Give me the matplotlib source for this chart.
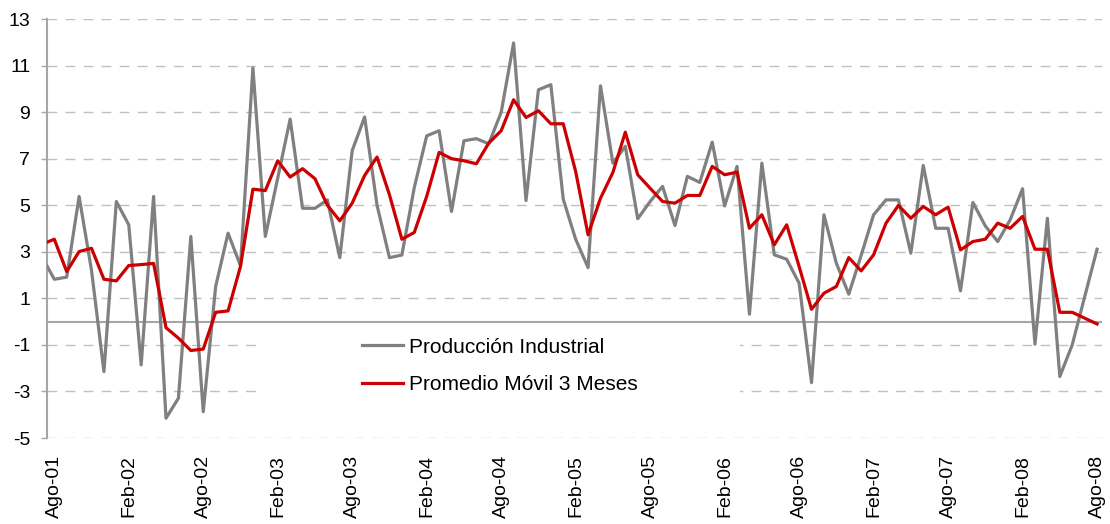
import numpy as np
import matplotlib
matplotlib.use("Agg")
import matplotlib.pyplot as plt
from matplotlib.patches import Rectangle

plt.rcParams['font.family'] = ['Liberation Sans', 'DejaVu Sans']
plt.rcParams['axes.unicode_minus'] = False

# ---------- data (monthly, Jul-01 .. Ago-08; Jul-01 is clipped by the axis) ----------
month_idx = np.arange(-1, 85)

produccion = [2.8,
              1.82, 1.91, 5.38, 2.2, -2.15, 5.16, 4.16, -1.86, 5.38, -4.15, -3.29, 3.66,
              -3.87, 1.51, 3.8, 2.4, 10.9, 3.66, 6.17, 8.7, 4.87, 4.87, 5.23, 2.75,
              7.35, 8.79, 5.0, 2.75, 2.86, 5.76, 7.98, 8.2, 4.73, 7.77, 7.86, 7.64,
              8.99, 11.97, 5.2, 9.96, 10.18, 5.26, 3.54, 2.32, 10.13, 6.81, 7.53, 4.42,
              5.16, 5.81, 4.13, 6.24, 5.98, 7.71, 4.97, 6.67, 0.32, 6.81, 2.87, 2.68,
              1.65, -2.62, 4.59, 2.51, 1.18, 2.85, 4.59, 5.23, 5.23, 2.94, 6.71, 4.01,
              4.01, 1.32, 5.12, 4.11, 3.44, 4.37, 5.71, -0.97, 4.44, -2.36, -1.0, 1.06,
              3.11]

promedio = [3.32,
            3.54, 2.15, 3.01, 3.15, 1.82, 1.75, 2.41, 2.45, 2.5, -0.26, -0.71, -1.24,
            -1.18, 0.4, 0.46, 2.37, 5.69, 5.63, 6.91, 6.21, 6.57, 6.14, 5.0, 4.33,
            5.09, 6.28, 7.07, 5.45, 3.54, 3.83, 5.38, 7.27, 7.0, 6.91, 6.78, 7.67,
            8.2, 9.53, 8.77, 9.06, 8.5, 8.5, 6.45, 3.73, 5.3, 6.41, 8.14, 6.31,
            5.73, 5.16, 5.09, 5.42, 5.42, 6.67, 6.31, 6.42, 4.01, 4.59, 3.3, 4.16,
            2.37, 0.53, 1.22, 1.51, 2.75, 2.18, 2.87, 4.23, 4.99, 4.44, 4.95, 4.59,
            4.92, 3.08, 3.44, 3.54, 4.23, 4.01, 4.52, 3.11, 3.11, 0.4, 0.4, 0.15,
            -0.1]

tick_pos = [0, 6, 12, 18, 24, 30, 36, 42, 48, 54, 60, 66, 72, 78, 84]
tick_labels = ["Ago-01", "Feb-02", "Ago-02", "Feb-03", "Ago-03", "Feb-04", "Ago-04",
               "Feb-05", "Ago-05", "Feb-06", "Ago-06", "Feb-07", "Ago-07", "Feb-08",
               "Ago-08"]

# ---------- plot ----------
fig = plt.figure(figsize=(11.1, 5.24), dpi=100)
ax = fig.add_axes([0.0423, 0.1641, 0.9505, 0.7996])

ax.plot(month_idx, produccion, color='#808080', lw=2.3, label='Producción Industrial', zorder=3)
ax.plot(month_idx, promedio, color='#cc0000', lw=2.3, label='Promedio Móvil 3 Meses', zorder=4)

ax.set_xlim(-0.59, 84.4)
ax.set_ylim(-5, 13)
ax.set_yticks(range(-5, 14, 2))
ax.set_xticks(tick_pos)
ax.set_xticklabels(tick_labels, rotation=90, fontsize=14)

ax.set_axisbelow(True)
ax.yaxis.grid(True, color='#c0c0c0', lw=1, linestyle=(0, (7, 6)))
ax.axhline(0, color='#a6a6a6', lw=1.5, zorder=2)

for s in ['top', 'right', 'bottom']:
    ax.spines[s].set_visible(False)
ax.spines['left'].set_color('#a6a6a6')
ax.spines['left'].set_linewidth(1.5)
ax.tick_params(axis='y', length=4, width=1, color='#a6a6a6', pad=8, labelsize=14)
ax.tick_params(axis='x', length=0, pad=12)

# white legend area (hides gridlines like the original)
ax.add_patch(Rectangle((0.205, 0.02), 0.452, 0.245, transform=ax.transAxes,
                       facecolor='white', edgecolor='none', zorder=1.5))
ax.legend(loc='center', bbox_to_anchor=(0.429, 0.172), frameon=False, fontsize=15,
          handlelength=2.0, handletextpad=0.25, labelspacing=0.9)

plt.savefig('out.png', dpi=100)
